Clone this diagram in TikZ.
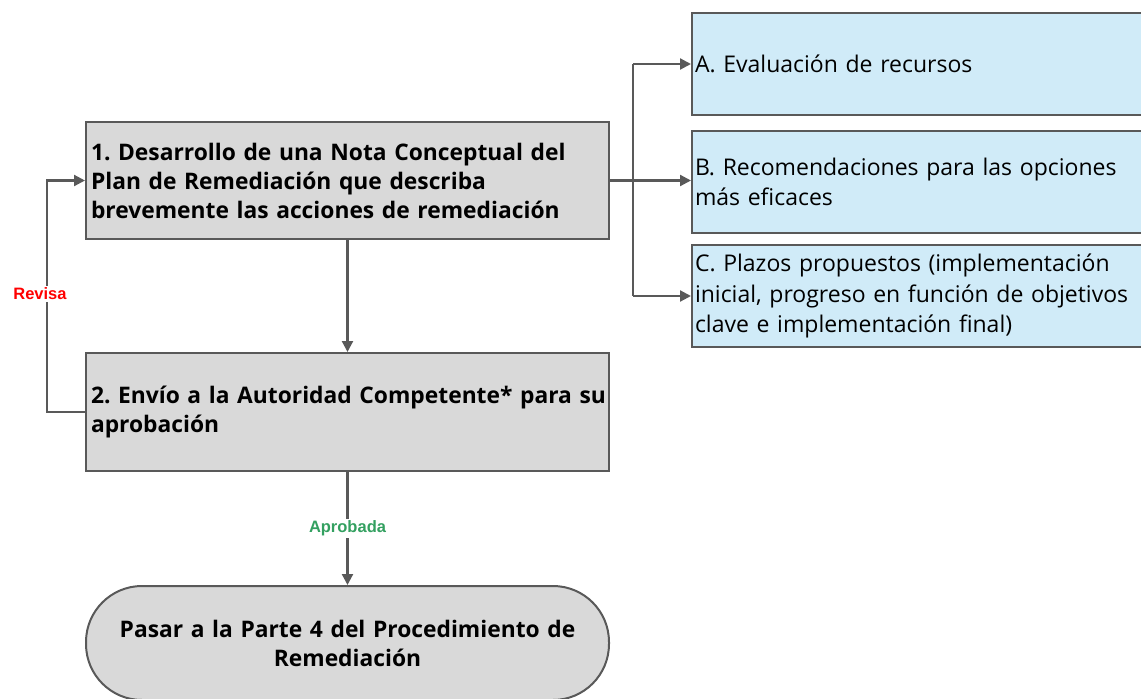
\documentclass[tikz,border=0pt]{standalone}
\usepackage{fontspec}
\setmainfont{Open Sans}
\newfontfamily\labfont{Liberation Sans}
\usetikzlibrary{arrows.meta}
\definecolor{boxgray}{HTML}{D9D9D9}
\definecolor{edgegray}{HTML}{595959}
\definecolor{boxblue}{HTML}{D0EBF8}
\definecolor{okgreen}{HTML}{33A060}
\definecolor{revred}{HTML}{FF0000}
\frenchspacing
\begin{document}
\begin{tikzpicture}[x=1pt,y=-1pt,
  graybox/.style={draw=edgegray, line width=2pt, fill=boxgray, anchor=north west,
    inner sep=5pt, align=left, text width=513pt,
    font=\bfseries\fontsize{22.8}{29}\selectfont},
  bluebox/.style={draw=edgegray, line width=2pt, fill=boxblue, anchor=north west,
    inner sep=3pt, align=left, text width=470pt, minimum height=102pt,
    font=\fontsize{23}{30.5}\selectfont},
  conn/.style={draw=edgegray, line width=2.2pt},
  arr/.style={conn, -{Triangle[length=11pt,width=11pt]}},
  lbl/.style={fill=white, inner sep=1.5pt, font=\labfont\bfseries\fontsize{16.5}{18}\selectfont}]
\useasboundingbox (0,0) rectangle (1141,699);
\node[graybox, minimum height=117pt] (b1) at (85,121)
  {1. Desarrollo de una Nota Conceptual del\\Plan de Remediación que describa\\brevemente las acciones de remediación};
\node[graybox, minimum height=118pt] (b2) at (85,352)
  {\mbox{2. Envío a la Autoridad Competente* para su}\\aprobación};
\node[graybox, align=center, minimum height=114pt, rounded corners=56pt] (term) at (85,585)
  {Pasar a la Parte 4 del Procedimiento de\\Remediación};
\node[bluebox] (bA) at (691,12) {A. Evaluación de recursos};
\node[bluebox] (bB) at (691,130) {B. Recomendaciones para las opciones\\más eficaces};
\node[bluebox] (bC) at (691,244) {C. Plazos propuestos (implementación\\inicial, progreso en función de objetivos\\clave e implementación final)};
\coordinate (br) at (633,0);
\draw[arr] (b1.east) -- (b1.east -| bB.west);
\draw[conn] (br |- bA.west) -- (br |- bC.west);
\draw[arr] (br |- bA.west) -- (bA.west);
\draw[arr] (br |- bC.west) -- (bC.west);
\draw[arr] (b1.south) -- (b2.north);
\draw[arr] (b2.west) -- ++(-38,0) |- (b1.west);
\node[lbl, text=revred] (revisa) at (40,294) {Revisa};
\draw[arr] (b2.south) -- node[lbl, text=okgreen] (aprob) {Aprobada} (term.north);
\end{tikzpicture}
\end{document}
